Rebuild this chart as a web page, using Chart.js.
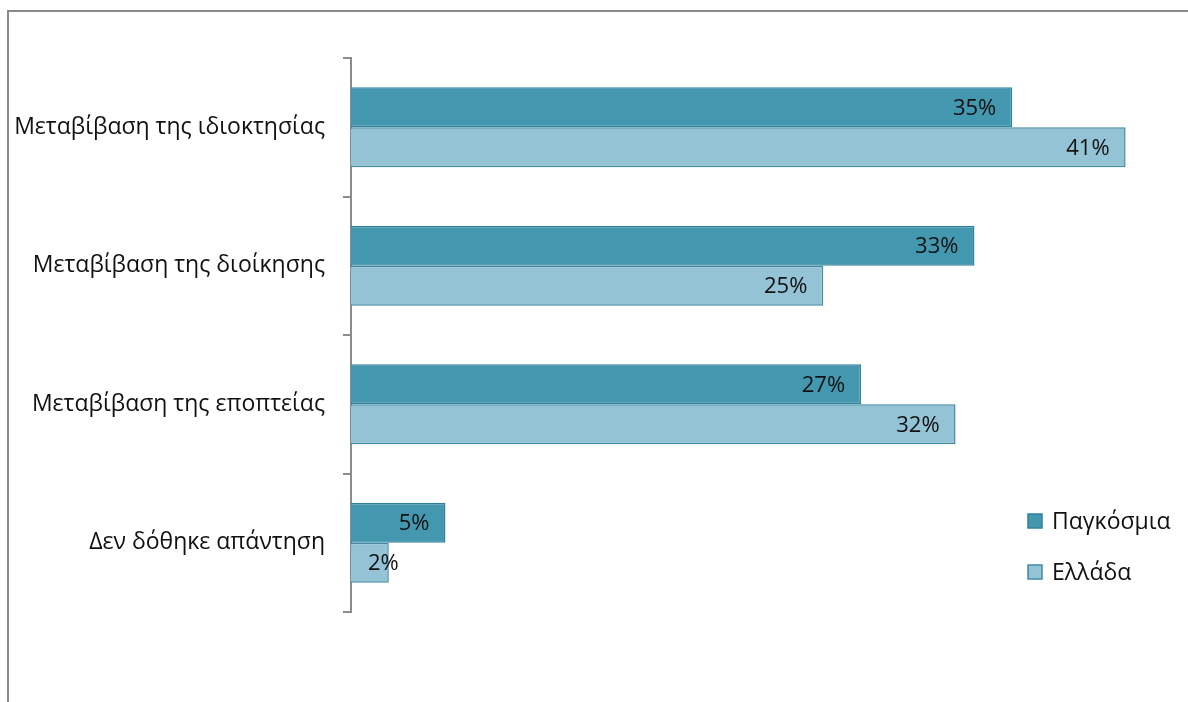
<!DOCTYPE html>
<html>
<head>
<meta charset="utf-8">
<script src="https://cdn.jsdelivr.net/npm/chart.js@4"></script>
<style>
  html, body { margin: 0; padding: 0; background: #fff; }
  #wrap { width: 1188px; height: 702px; position: relative; }
</style>
</head>
<body>
<div id="wrap"><canvas id="chart"></canvas></div>
<script>
const categories = [
  'Μεταβίβαση της ιδιοκτησίας',
  'Μεταβίβαση της διοίκησης',
  'Μεταβίβαση της εποπτείας',
  'Δεν δόθηκε απάντηση',
];
const seriesNames = ['Παγκόσμια', 'Ελλάδα'];
const globalValues = [35, 33, 27, 5];
const greeceValues = [41, 25, 32, 2];

const FONT = '"Open Sans", "Noto Sans", sans-serif';
const fillColors = ['#4397ae', '#93c3d5'];
const edgeColors = ['#32819a', '#3f8ba2'];

// outer frame: left and top edges only
const framePlugin = {
  id: 'frame',
  beforeDraw(chart) {
    const ctx = chart.ctx;
    ctx.save();
    ctx.strokeStyle = '#8a8a8a';
    ctx.lineWidth = 2;
    ctx.beginPath();
    ctx.moveTo(8, 702);
    ctx.lineTo(8, 11);
    ctx.lineTo(1188, 11);
    ctx.stroke();
    ctx.restore();
  }
};

// percentage labels at the inside end of each bar
const valueLabels = {
  id: 'valueLabels',
  afterDatasetsDraw(chart) {
    const ctx = chart.ctx;
    ctx.save();
    ctx.font = '22px ' + FONT;
    ctx.fillStyle = '#111';
    ctx.textBaseline = 'middle';
    ctx.textAlign = 'left';
    chart.data.datasets.forEach((ds, i) => {
      chart.getDatasetMeta(i).data.forEach((bar, j) => {
        const text = ds.data[j] + '%';
        const w = ctx.measureText(text).width;
        let left = bar.x - 16 - w;
        if (left < bar.base + 17) left = bar.base + 17;
        ctx.fillText(text, left, bar.y + 1);
      });
    });
    ctx.restore();
  }
};

const sideLegend = {
  id: 'sideLegend',
  afterDraw(chart) {
    const ctx = chart.ctx;
    ctx.save();
    ctx.font = '23px ' + FONT;
    ctx.textBaseline = 'middle';
    chart.data.datasets.forEach((ds, i) => {
      const cy = 521 + i * 51;
      ctx.fillStyle = ds.backgroundColor;
      ctx.fillRect(1028, cy - 7, 14, 14);
      ctx.strokeStyle = ds.borderColor;
      ctx.lineWidth = 1.5;
      ctx.strokeRect(1028, cy - 7, 14, 14);
      ctx.fillStyle = '#111';
      ctx.fillText(ds.label, 1052, cy + 1);
    });
    ctx.restore();
  }
};

new Chart(document.getElementById('chart'), {
  type: 'bar',
  data: {
    labels: categories,
    datasets: [
      {
        label: seriesNames[0],
        data: globalValues,
        backgroundColor: fillColors[0],
        borderColor: edgeColors[0],
        borderWidth: 1.5,
      },
      {
        label: seriesNames[1],
        data: greeceValues,
        backgroundColor: fillColors[1],
        borderColor: edgeColors[1],
        borderWidth: 1.5,
      },
    ]
  },
  options: {
    indexAxis: 'y',
    responsive: true,
    maintainAspectRatio: false,
    animation: false,
    layout: { padding: { top: 58, bottom: 90, right: 18, left: 0 } },
    datasets: {
      bar: { barPercentage: 1, categoryPercentage: 0.578, borderSkipped: 'left' }
    },
    plugins: {
      legend: { display: false },
      tooltip: { enabled: false },
    },
    scales: {
      x: {
        display: false,
        min: 0,
        max: 43.35,
      },
      y: {
        afterFit(scale) { scale.width = 351; },
        border: { display: true, color: '#8c8c8c', width: 2 },
        grid: {
          drawOnChartArea: false,
          drawTicks: true,
          tickLength: 8,
          color: '#8c8c8c',
          lineWidth: 2,
          offset: true,
        },
        ticks: {
          color: '#111',
          padding: 18,
          font: { family: FONT, size: 23 },
        },
      }
    }
  },
  plugins: [framePlugin, valueLabels, sideLegend]
});
</script>
</body>
</html>
